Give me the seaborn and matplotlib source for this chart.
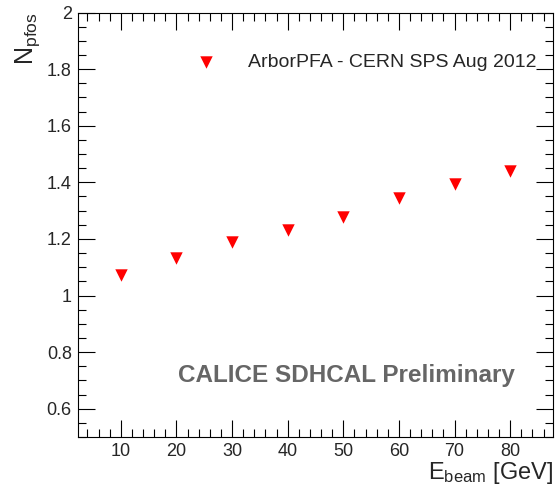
import numpy as np
import pandas as pd
import matplotlib
matplotlib.use('Agg')
import matplotlib.pyplot as plt
import seaborn as sns
from matplotlib.ticker import MultipleLocator

# beam energies and mean number of PFOs
e_beam = [10, 20, 30, 40, 50, 60, 70, 80]
n_pfos = [1.073, 1.132, 1.190, 1.232, 1.278, 1.344, 1.394, 1.441]

data = pd.DataFrame({'ebeam': e_beam, 'npfos': n_pfos})

sns.set_style('ticks')
plt.rcParams['font.family'] = ['Liberation Sans', 'DejaVu Sans']
plt.rcParams['mathtext.default'] = 'regular'

fig = plt.figure(figsize=(5.56, 4.93), dpi=100)
ax = fig.add_axes([78 / 556, 56 / 493, 475 / 556, 424.5 / 493])

sns.scatterplot(x='ebeam', y='npfos', data=data, ax=ax, marker='v', color='red',
                s=80, linewidth=0, label='ArborPFA - CERN SPS Aug 2012')

ax.set_xlim(2.3, 87.7)
ax.set_ylim(0.5, 2.0)
ax.xaxis.set_minor_locator(MultipleLocator(2))
ax.yaxis.set_minor_locator(MultipleLocator(0.05))
ax.set_yticks([0.6, 0.8, 1.0, 1.2, 1.4, 1.6, 1.8, 2.0])
ax.set_yticklabels(['0.6', '0.8', '1', '1.2', '1.4', '1.6', '1.8', '2'])
ax.set_xticks([10, 20, 30, 40, 50, 60, 70, 80])

ax.tick_params(which='both', direction='in', top=True, right=True, labelsize=13,
               width=0.8, color='black')
ax.tick_params(which='major', length=12, pad=4.5)
ax.tick_params(which='minor', length=6)
for sp in ax.spines.values():
    sp.set_linewidth(0.8)
    sp.set_color('black')

ax.set_xlabel(r'$E_{beam}$ [GeV]', fontsize=17, loc='right')
ax.set_ylabel(r'$N_{pfos}$', fontsize=18, loc='top')
ax.xaxis.set_label_coords(1.0, -0.054)
ax.yaxis.set_label_coords(-0.075, 1.0)

leg = ax.legend(loc='center left', bbox_to_anchor=(0.208, 0.883), frameon=False,
                fontsize=14, handletextpad=1.15, markerscale=1.0, borderpad=0)

ax.text(0.565, 0.146, 'CALICE SDHCAL Preliminary', transform=ax.transAxes,
        fontsize=17.5, fontweight='bold', color='#666666', ha='center', va='center')

fig.savefig('out.png', dpi=100)
